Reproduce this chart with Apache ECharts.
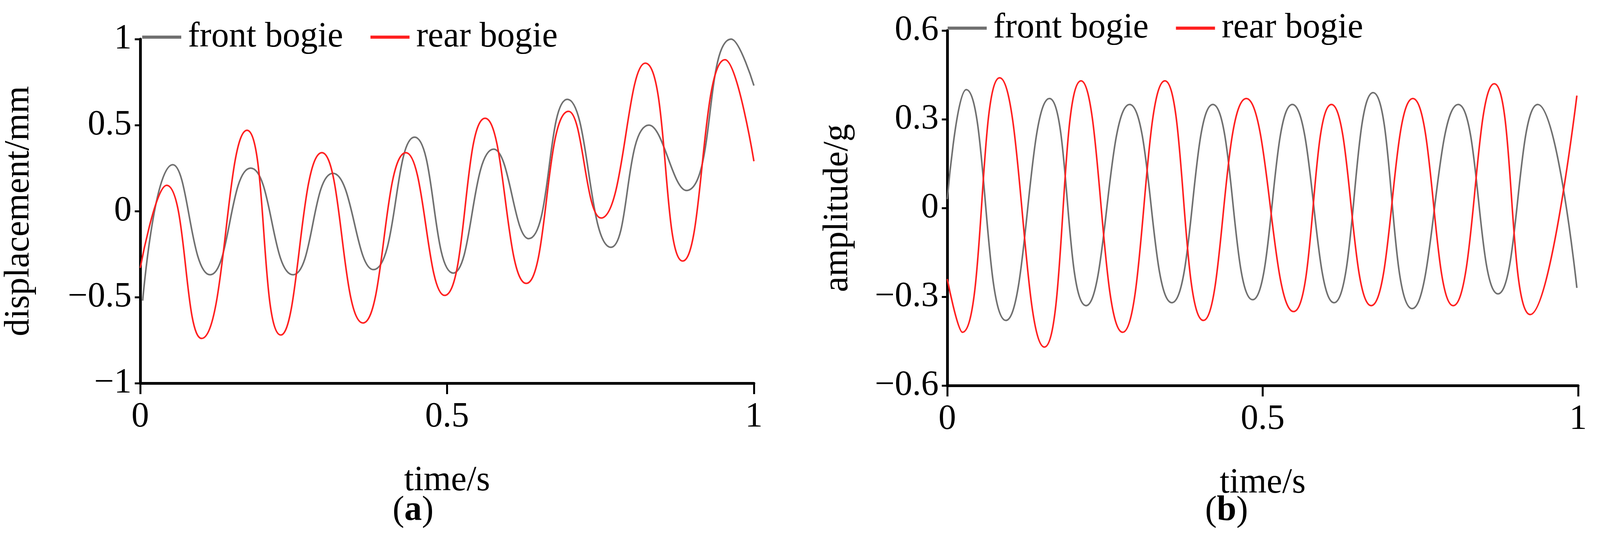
<!DOCTYPE html>
<html>
<head>
<meta charset="utf-8">
<script src="https://cdn.jsdelivr.net/npm/echarts@6/dist/echarts.min.js"></script>
<style>html,body{margin:0;padding:0;background:#fff;overflow:hidden}#c{width:100vw;height:100vh}</style>
</head>
<body>
<div id="c"></div>
<script>
// (a) displacement, [time, value]
const dispFront = [[0.004,-0.52],[0.053,0.27],[0.114,-0.37],[0.18,0.25],[0.249,-0.37],[0.314,0.22],[0.38,-0.34],[0.447,0.43],[0.51,-0.36],[0.576,0.36],[0.633,-0.16],[0.696,0.65],[0.767,-0.21],[0.829,0.5],[0.89,0.12],[0.963,1.0],[1,0.73]];
const dispRear = [[0,-0.33],[0.043,0.15],[0.1,-0.74],[0.174,0.47],[0.229,-0.72],[0.296,0.34],[0.363,-0.65],[0.433,0.34],[0.496,-0.49],[0.562,0.54],[0.629,-0.42],[0.698,0.58],[0.751,-0.04],[0.823,0.86],[0.884,-0.29],[0.953,0.88],[1,0.29]];
// (b) amplitude
const ampFront = [[0,0.03],[0.03,0.4],[0.093,-0.38],[0.162,0.37],[0.22,-0.33],[0.289,0.35],[0.356,-0.32],[0.421,0.35],[0.484,-0.31],[0.547,0.35],[0.613,-0.32],[0.675,0.39],[0.737,-0.34],[0.81,0.35],[0.873,-0.29],[0.936,0.35],[0.998,-0.27]];
const ampRear = [[0,-0.24],[0.024,-0.42],[0.083,0.44],[0.154,-0.47],[0.212,0.43],[0.278,-0.42],[0.345,0.43],[0.406,-0.38],[0.474,0.37],[0.549,-0.35],[0.609,0.35],[0.672,-0.33],[0.738,0.37],[0.802,-0.33],[0.867,0.42],[0.924,-0.36],[0.998,0.38]];
const seriesNames = ['front bogie', 'rear bogie'];

const font = '"Liberation Serif", "DejaVu Serif", serif';
const gray = '#707070', red = '#ff2020';
const fs = 90;
const fmt = v => String(v).replace('-', '\u2212');

function xAx(gi) {
  return {
    gridIndex: gi, type: 'value', min: 0, max: 1, interval: 0.5,
    name: 'time/s', nameLocation: 'middle', nameGap: 205,
    nameTextStyle: {fontFamily: font, fontSize: fs, color: '#000'},
    axisLine: {onZero: false, lineStyle: {color: '#000', width: 7}},
    axisTick: {length: 28, lineStyle: {color: '#000', width: 5}},
    axisLabel: {fontFamily: font, fontSize: fs, color: '#000', margin: 42, formatter: fmt},
    splitLine: {show: false}
  };
}
function yAx(gi, min, max, iv, name, gap) {
  return {
    gridIndex: gi, type: 'value', min: min, max: max, interval: iv,
    name: name, nameLocation: 'middle', nameGap: gap,
    nameTextStyle: {fontFamily: font, fontSize: fs, color: '#000'},
    axisLine: {show: true, onZero: false, lineStyle: {color: '#000', width: 7}},
    axisTick: {show: true, length: 14, lineStyle: {color: '#000', width: 5}},
    axisLabel: {fontFamily: font, fontSize: fs, color: '#000', margin: 22, formatter: fmt},
    splitLine: {show: false}
  };
}
function line(name, data, color, gi) {
  return {name: name, type: 'line', xAxisIndex: gi, yAxisIndex: gi, data: data,
    smooth: 0.5, symbol: 'none', lineStyle: {color: color, width: 4}, itemStyle: {color: color}};
}
function leg(left, top) {
  return {data: seriesNames, left: left, top: top, icon: 'rect', itemWidth: 100, itemHeight: 8, itemGap: 70,
    textStyle: {fontFamily: font, fontSize: fs, color: '#000', padding: [0, 0, 0, 12]}};
}

const chart = echarts.init(document.getElementById('c'));
chart.setOption({
  animation: false,
  backgroundColor: '#fff',
  grid: [
    {left: 359, right: 2166, top: 100, bottom: 396},
    {left: 2425, right: 56, top: 78, bottom: 390}
  ],
  xAxis: [xAx(0), xAx(1)],
  yAxis: [yAx(0, -1, 1, 0.5, 'displacement/mm', 265), yAx(1, -0.6, 0.6, 0.3, 'amplitude/g', 235)],
  legend: [leg(359, 45), leg(2421, 22)],
  series: [
    line(seriesNames[0], dispFront, gray, 0),
    line(seriesNames[1], dispRear, red, 0),
    line(seriesNames[0], ampFront, gray, 1),
    line(seriesNames[1], ampRear, red, 1)
  ],
  graphic: [
    {type: 'text', left: 1005, top: 1262, style: {text: '{n|(}{b|a}{n|)}', rich: {n: {fontFamily: font, fontSize: fs}, b: {fontFamily: font, fontSize: fs, fontWeight: 'bold'}}}},
    {type: 'text', left: 3085, top: 1262, style: {text: '{n|(}{b|b}{n|)}', rich: {n: {fontFamily: font, fontSize: fs}, b: {fontFamily: font, fontSize: fs, fontWeight: 'bold'}}}}
  ]
});
</script>
</body>
</html>
